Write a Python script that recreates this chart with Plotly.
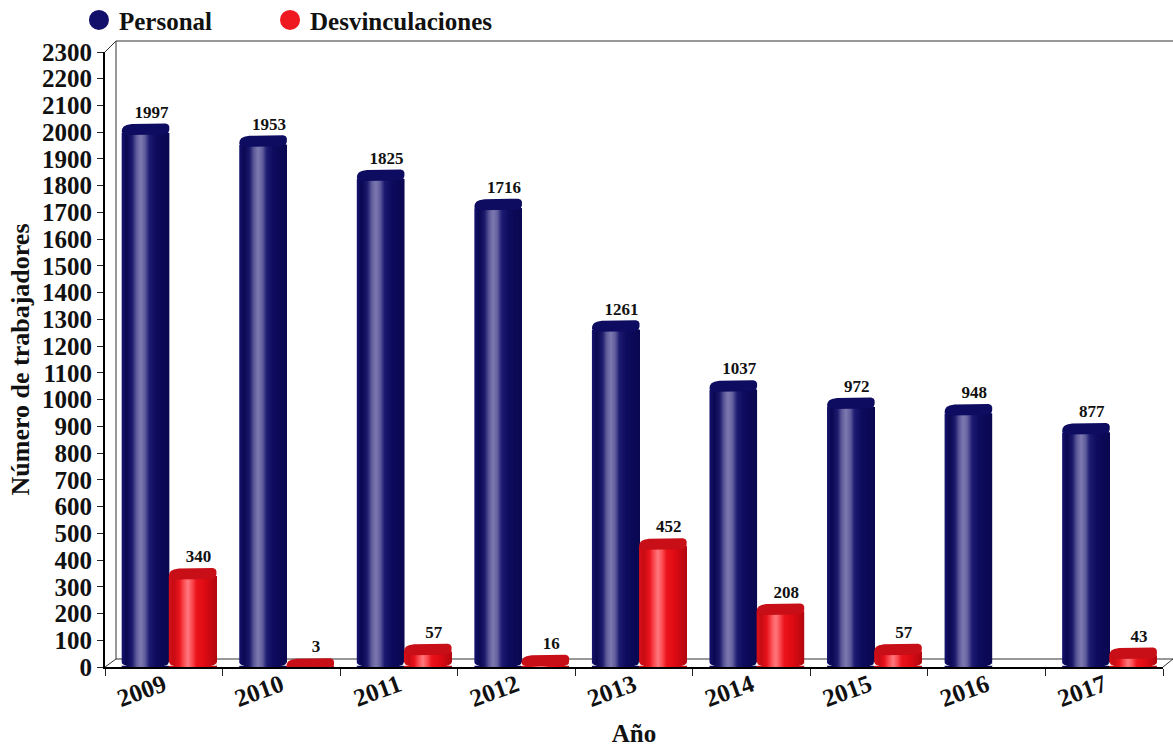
import plotly.graph_objects as go

categories = ["2009", "2010", "2011", "2012", "2013", "2014", "2015", "2016", "2017"]
personal = [1997, 1953, 1825, 1716, 1261, 1037, 972, 948, 877]
desvinculaciones = [340, 3, 57, 16, 452, 208, 57, None, 43]
y_ticks = list(range(0, 2301, 100))

FONT = "Liberation Serif"
INK = "#111111"
L, R, T, B = 105, 10, 52, 80
W, H = 1173, 747
PW, PH = W - L - R, H - T - B
PX_X = 9 / PW            # category units per pixel
PX_Y = 2300 / PH         # value units per pixel

NAVY_STOPS = [(0, "#16146e"), (.10, "#0a0852"), (.22, "#1c1a6c"), (.31, "#5e5a9a"), (.40, "#7e7ab0"),
              (.49, "#625e9e"), (.58, "#1e1c72"), (.72, "#0e0c5e"), (1, "#0a0850")]
RED_STOPS = [(0, "#d8101a"), (.10, "#c60c14"), (.22, "#e8141c"), (.31, "#fa4a50"), (.40, "#ff7a80"),
             (.49, "#fb4c52"), (.58, "#ec141c"), (.74, "#e00c14"), (1, "#b40810")]


def mix(stops, f):
    for (a, ca), (b, cb) in zip(stops, stops[1:]):
        if f <= b:
            t = (f - a) / (b - a)
            rgb = [round(int(ca[i:i + 2], 16) * (1 - t) + int(cb[i:i + 2], 16) * t) for i in (1, 3, 5)]
            return "rgb(%d,%d,%d)" % tuple(rgb)
    return stops[-1][1]


def add_cylinders(fig, values, start, width, stops, n=40):
    step = width / n
    for k in range(n):
        f = (k + .5) / n
        fig.add_trace(go.Bar(
            x=categories, y=values, offset=start + k * step,
            width=step * (2.2 if k < n - 1 else 1),
            marker=dict(color=mix(stops, f), line=dict(width=0)),
            showlegend=False, hoverinfo="skip"))


# Outline of a cylinder top, in pixels from the bar's left edge and its value (up is positive).
CAP = [(0, 1), (.4, 4), (2, 6.5), (5, 8), (10, 9), (30, 9.5), (44, 9.5), (46.5, 8.5), (47.6, 6.5), (47.6, 3),
       (46.5, 0), (42, -1.5), (24, -2), (6, -2), (1.5, -1), (0, 1)]
# White notches that round the foot of a cylinder, in pixels from its corner.
FOOT_L = [(-.5, 1.2), (-.5, 5), (.6, 3.2), (2.4, 1.9), (5.5, 1.2)]
FOOT_R = [(48, 1.2), (48, 5), (47, 3.2), (45.2, 1.9), (42, 1.2)]


def cap_outline(values, start, lift):
    xs, ys = [], []
    for i, v in enumerate(values):
        if v is None:
            continue
        for dx, dy in CAP:
            xs.append(i + start + dx * PX_X)
            ys.append(v + (dy + lift) * PX_Y)
        xs.append(None)
        ys.append(None)
    return xs, ys


def foot_outline(values, start):
    xs, ys = [], []
    for i, v in enumerate(values):
        if v is None:
            continue
        for outline in (FOOT_L, FOOT_R):
            for dx, dy in outline:
                xs.append(i + start + dx * PX_X)
                ys.append(dy * PX_Y)
            xs.append(None)
            ys.append(None)
    return xs, ys


fig = go.Figure()
P_START, R_START, BAR_W = -.358, .043, .403
add_cylinders(fig, personal, P_START, BAR_W, NAVY_STOPS)
add_cylinders(fig, desvinculaciones, R_START, BAR_W, RED_STOPS)

for vals, start, color, lift, text_up in [(personal, P_START, "#0e0c60", 0, 19.5),
                                          (desvinculaciones, R_START, "#c80e16", -1.5, 18)]:
    fx, fy = foot_outline(vals, start)
    fig.add_trace(go.Scatter(x=fx, y=fy, xaxis="x2", mode="lines", fill="toself", fillcolor="white",
                             line=dict(width=0, color="white"), showlegend=False, hoverinfo="skip"))
for vals, start, color, lift, text_up in [(personal, P_START, "#0e0c60", 0, 19.5),
                                          (desvinculaciones, R_START, "#c80e16", -1.5, 18)]:
    cx, cy = cap_outline(vals, start, lift)
    fig.add_trace(go.Scatter(x=cx, y=cy, xaxis="x2", mode="lines", fill="toself", fillcolor=color,
                             line=dict(width=0, color=color), showlegend=False, hoverinfo="skip"))
    idx = [i for i, v in enumerate(vals) if v is not None]
    fig.add_trace(go.Scatter(
        x=[i + start + BAR_W / 2 + 6 * PX_X for i in idx],
        y=[vals[i] + text_up * PX_Y for i in idx],
        xaxis="x2", mode="text", text=[str(vals[i]) for i in idx], textposition="middle center",
        textfont=dict(family=FONT, size=17, color=INK, weight="bold"),
        showlegend=False, hoverinfo="skip"))

for color, name, leg in [("#12106a", "Personal", "legend"), ("#ee1a1f", "Desvinculaciones", "legend2")]:
    fig.add_trace(go.Scatter(x=[None], y=[None], xaxis="x2", mode="markers", name=name, legend=leg,
                             showlegend=True,
                             marker=dict(color=color, size=16, line=dict(color=color, width=4))))

px = lambda v: (v - L) / PW
py = lambda v: (H - B - v) / PH
wall = dict(type="line", xref="paper", yref="paper", layer="below", line=dict(color="#333333", width=1))
segments = [(116, 41, 1173, 41), (116, 41, 116, 659), (116, 659, 1173, 659),
            (105, 52, 116, 41), (105, 667, 116, 659), (1163, 667, 1173, 659)]
shapes = [dict(wall, x0=px(a), y0=py(b), x1=px(c), y1=py(d)) for a, b, c, d in segments]

tick_font = dict(family=FONT, size=25, color=INK, weight="bold")
legend_common = dict(orientation="h", xref="container", yref="container", y=.973,
                     xanchor="left", yanchor="middle",
                     font=dict(family=FONT, size=25, color=INK, weight="bold"),
                     itemsizing="trace", bgcolor="rgba(0,0,0,0)")
fig.update_layout(
    width=W, height=H, autosize=False,
    margin=dict(l=L, r=R, t=T, b=B, autoexpand=False),
    paper_bgcolor="white", plot_bgcolor="white",
    barmode="overlay", shapes=shapes,
    showlegend=True,
    legend=dict(legend_common, x=.0673),
    legend2=dict(legend_common, x=.2302),
    xaxis=dict(type="category", categoryorder="array", categoryarray=categories,
               range=[-.5, 8.5], tickson="boundaries", ticks="outside", ticklen=7, tickwidth=1,
               tickcolor="#222222", tickangle=-20, tickfont=tick_font, automargin=False,
               ticklabelstandoff=-8,
               showline=True, linecolor="black", linewidth=2, showgrid=False, zeroline=False,
               title=dict(text="Año", font=dict(family=FONT, size=25, color=INK, weight="bold"), standoff=16)),
    xaxis2=dict(overlaying="x", range=[-.5, 8.5], visible=False, side="top"),
    yaxis=dict(range=[0, 2300], tickmode="array", tickvals=y_ticks, ticks="outside", ticklen=6, tickwidth=1,
               tickcolor="#222222", tickfont=tick_font, automargin=False,
               showline=True, linecolor="black", linewidth=2, showgrid=False, zeroline=False,
               title=dict(text="Número de trabajadores", font=dict(family=FONT, size=26, color=INK, weight="bold"), standoff=5)),
)

fig.write_html("out.html", config={"displayModeBar": False},
               post_script="document.body.style.margin='0';document.body.style.overflow='hidden';")
